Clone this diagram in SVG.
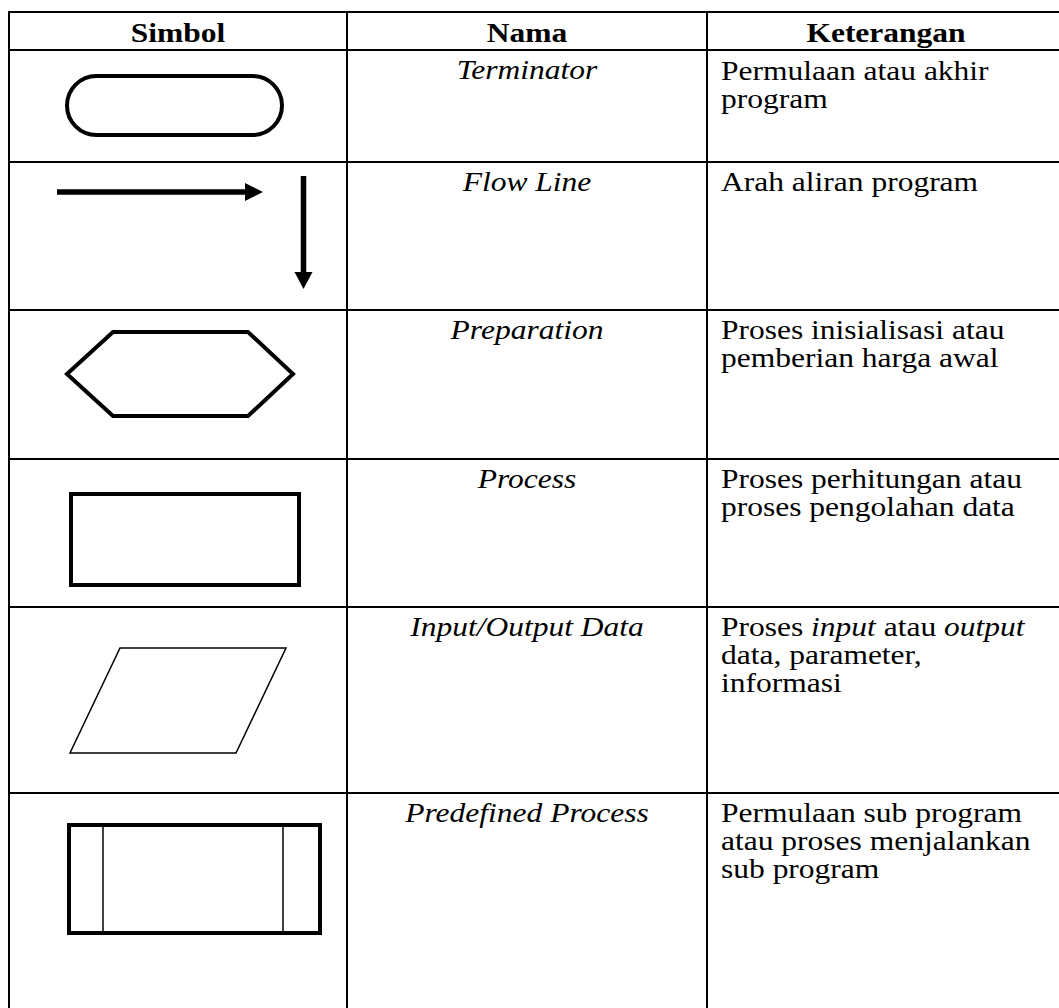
<svg xmlns="http://www.w3.org/2000/svg" width="1059" height="1008" viewBox="0 0 1059 1008">
<style>
text{font-family:"Liberation Serif","Times New Roman",serif;font-size:27px;fill:#000}
.h{font-weight:bold;text-anchor:middle}
.n{font-style:italic;text-anchor:middle}
.i{font-style:italic}
.grid line{stroke:#000;stroke-width:2}
.sym{fill:none;stroke:#000;stroke-width:4}
.thin{fill:none;stroke:#000;stroke-width:1.5}
.arr{stroke:#000;stroke-width:5.5}
</style>
<rect x="0" y="0" width="1059" height="1008" fill="#fff"/>
<g id="grid" class="grid">
<line x1="8" y1="12" x2="1059" y2="12"/>
<line x1="8" y1="50" x2="1059" y2="50"/>
<line x1="8" y1="162" x2="1059" y2="162"/>
<line x1="8" y1="310" x2="1059" y2="310"/>
<line x1="8" y1="459" x2="1059" y2="459"/>
<line x1="8" y1="607" x2="1059" y2="607"/>
<line x1="8" y1="793" x2="1059" y2="793"/>
<line x1="9" y1="11" x2="9" y2="1008"/>
<line x1="347" y1="11" x2="347" y2="1008"/>
<line x1="707" y1="11" x2="707" y2="1008"/>
</g>
<g id="header">
<text class="h" transform="translate(178,42) scale(1.167,1)">Simbol</text>
<text class="h" transform="translate(527,42) scale(1.167,1)">Nama</text>
<text class="h" transform="translate(886,42) scale(1.167,1)">Keterangan</text>
</g>
<g id="terminator">
<rect class="sym" x="67" y="76" width="215" height="59" rx="29.5" ry="29.5" stroke-width="3.5"/>
<text class="n" transform="translate(527,79) scale(1.167,1)">Terminator</text>
<text transform="translate(721,80) scale(1.167,1)">Permulaan atau akhir</text>
<text transform="translate(721,108) scale(1.167,1)">program</text>
</g>
<g id="flowline">
<line class="arr" x1="57" y1="192" x2="246" y2="192"/>
<polygon points="245,183 263,192 245,201" fill="#000"/>
<line class="arr" x1="303.5" y1="176" x2="303.5" y2="273"/>
<polygon points="294.5,272 312.5,272 303.5,289" fill="#000"/>
<text class="n" transform="translate(527,191) scale(1.167,1)">Flow Line</text>
<text transform="translate(721,191) scale(1.167,1)">Arah aliran program</text>
</g>
<g id="preparation">
<polygon class="sym" points="67,374 113,332 248,332 293,374 248,416 113,416"/>
<text class="n" transform="translate(527,339) scale(1.167,1)">Preparation</text>
<text transform="translate(721,339) scale(1.167,1)">Proses inisialisasi atau</text>
<text transform="translate(721,367) scale(1.167,1)">pemberian harga awal</text>
</g>
<g id="process">
<rect class="sym" x="71" y="494" width="228" height="91"/>
<text class="n" transform="translate(527,488) scale(1.167,1)">Process</text>
<text transform="translate(721,488) scale(1.167,1)">Proses perhitungan atau</text>
<text transform="translate(721,516) scale(1.167,1)">proses pengolahan data</text>
</g>
<g id="io">
<polygon class="thin" points="120,648 286,648 236,753 70,753"/>
<text class="n" transform="translate(527,636) scale(1.167,1)">Input/Output Data</text>
<text transform="translate(721,636) scale(1.167,1)">Proses <tspan class="i">input</tspan> atau <tspan class="i">output</tspan></text>
<text transform="translate(721,664) scale(1.167,1)">data, parameter,</text>
<text transform="translate(721,692) scale(1.167,1)">informasi</text>
</g>
<g id="predefined">
<rect class="sym" x="69" y="825" width="251" height="108"/>
<line class="thin" x1="103" y1="823" x2="103" y2="935"/>
<line class="thin" x1="283" y1="823" x2="283" y2="935"/>
<text class="n" transform="translate(527,822) scale(1.167,1)">Predefined Process</text>
<text transform="translate(721,822) scale(1.167,1)">Permulaan sub program</text>
<text transform="translate(721,850) scale(1.167,1)">atau proses menjalankan</text>
<text transform="translate(721,878) scale(1.167,1)">sub program</text>
</g>
</svg>
